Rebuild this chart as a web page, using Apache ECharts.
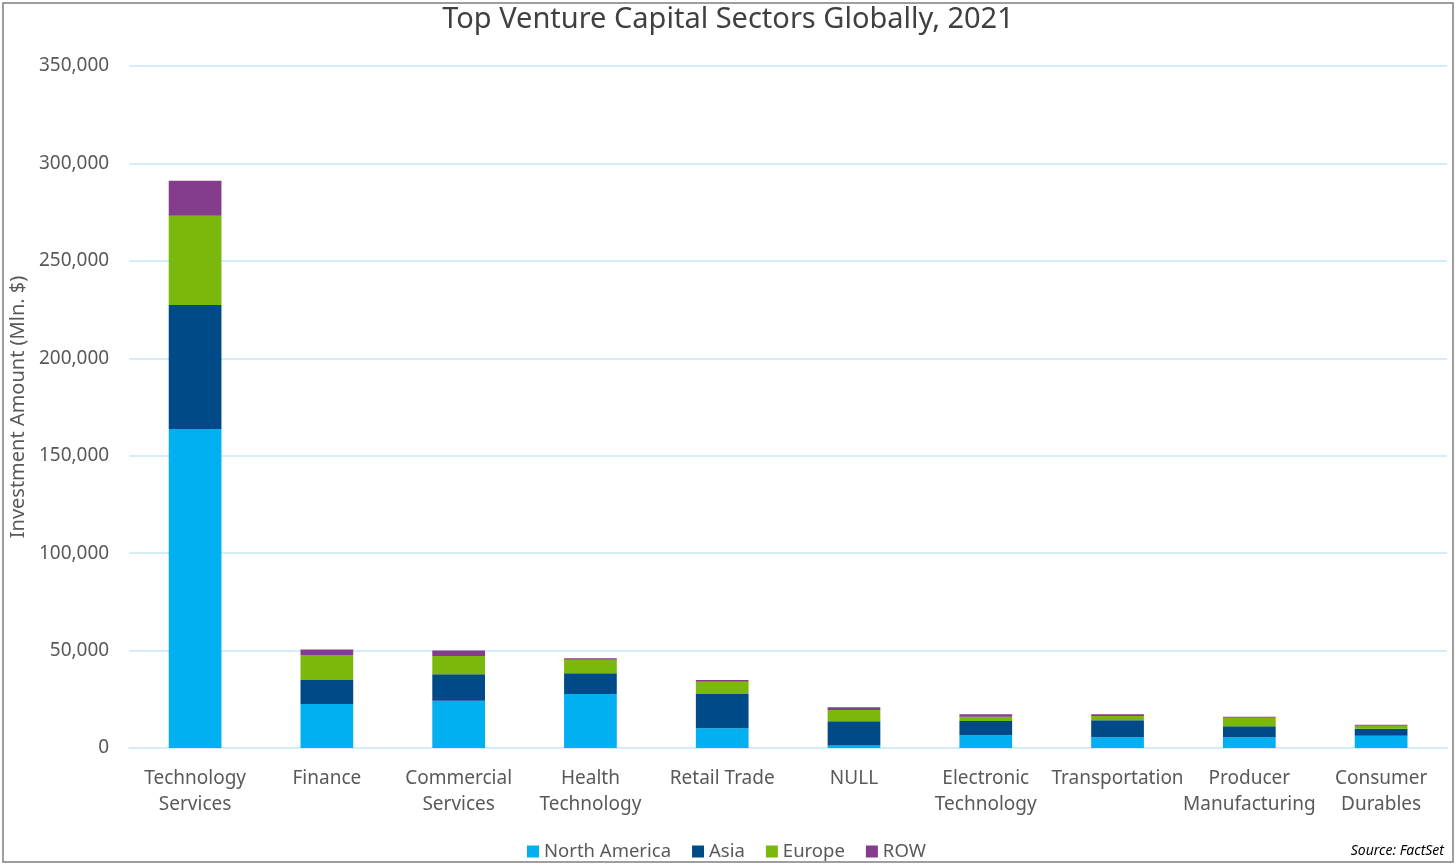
<!DOCTYPE html>
<html>
<head>
<meta charset="utf-8">
<script src="https://cdn.jsdelivr.net/npm/echarts@6/dist/echarts.min.js"></script>
<style>
html,body{margin:0;padding:0;background:#fff;}
#chart{width:1456px;height:868px;}
</style>
</head>
<body>
<div id="chart"></div>
<script>
const categories = ['Technology\nServices','Finance','Commercial\nServices','Health\nTechnology','Retail Trade','NULL','Electronic\nTechnology','Transportation','Producer\nManufacturing','Consumer\nDurables'];
const northAmerica = [163700, 22600, 24300, 27700, 10100, 1300, 6500, 5500, 5500, 6300];
const asia =         [63700, 12300, 13500, 10600, 17600, 12400, 7400, 8700, 5600, 3600];
const europe =       [45700, 12800, 9400, 7000, 6300, 5800, 2200, 2200, 4400, 1550];
const row =          [18000, 2900, 2900, 700, 900, 1400, 1200, 900, 500, 500];
const yTicks = [0, 50000, 100000, 150000, 200000, 250000, 300000, 350000];

const font = 'Noto Sans, sans-serif';
const chart = echarts.init(document.getElementById('chart'));
const mk = (name, data, color) => ({
  name, type: 'bar', stack: 'total', data, barCategoryGap: '60%',
  itemStyle: { color }
});
chart.setOption({
  animation: false,
  title: {
    text: 'Top Venture Capital Sectors Globally, 2021',
    left: 'center', top: 0,
    textStyle: { fontFamily: font, fontSize: 29, fontWeight: 'normal', color: '#404040' }
  },
  legend: {
    bottom: 2, left: 522,
    itemWidth: 12, itemHeight: 12, itemGap: 21,
    icon: 'rect',
    textStyle: { fontFamily: font, fontSize: 18.5, color: '#595959' },
    data: ['North America','Asia','Europe','ROW']
  },
  grid: { left: 128, right: 9, top: 66, bottom: 120 },
  xAxis: {
    type: 'category', data: categories,
    axisLine: { lineStyle: { color: '#d3eefa', width: 2 } },
    axisTick: { show: false },
    axisLabel: { fontFamily: font, fontSize: 19, color: '#595959', margin: 18, lineHeight: 26, interval: 0 }
  },
  yAxis: {
    type: 'value', min: yTicks[0], max: yTicks[yTicks.length-1], interval: 50000,
    name: 'Investment Amount (Mln. $)', nameLocation: 'middle', nameGap: 100, nameRotate: 90,
    nameTextStyle: { fontFamily: font, fontSize: 20, color: '#595959' },
    axisLine: { show: false }, axisTick: { show: false },
    splitLine: { lineStyle: { color: '#d3eefa', width: 2 } },
    axisLabel: { fontFamily: font, fontSize: 19, color: '#595959', margin: 20,
      formatter: v => v.toLocaleString('en-US') }
  },
  graphic: [
    { type: 'rect', shape: { x: 3, y: 3, width: 1450, height: 859 },
      style: { fill: 'none', stroke: '#7f7f7f', lineWidth: 1.5 } },
    { type: 'text', right: 12, bottom: 10,
      style: { text: 'Source: FactSet', fontFamily: font, fontSize: 14, fontStyle: 'italic', fill: '#000' } }
  ],
  series: [
    mk('North America', northAmerica, '#00b0f0'),
    mk('Asia', asia, '#004a87'),
    mk('Europe', europe, '#7ab80e'),
    mk('ROW', row, '#843c8c')
  ]
});
</script>
</body>
</html>
